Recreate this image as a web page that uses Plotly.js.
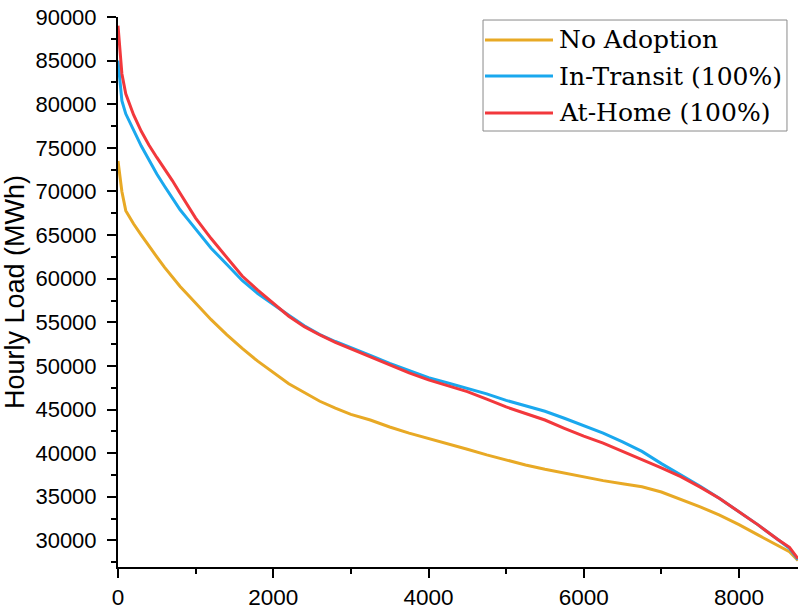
<!DOCTYPE html>
<html>
<head>
<meta charset="utf-8">
<script src="https://cdn.plot.ly/plotly-3.0.1.min.js"></script>
<style>html,body{margin:0;padding:0;background:#fff;}#chart{width:798px;height:613px;}</style>
</head>
<body>
<div id="chart"></div>
<script>
// Hour rank (sorted load duration)
const hours = [0, 20, 50, 100, 200, 300, 400, 500, 600, 700, 800, 900, 1000, 1200, 1400, 1600, 1800, 2000, 2200, 2400, 2600, 2800, 3000, 3250, 3500, 3750, 4000, 4250, 4500, 4750, 5000, 5250, 5500, 5750, 6000, 6250, 6500, 6750, 7000, 7250, 7500, 7750, 8000, 8250, 8500, 8650, 8760];

const seriesNames = ["No Adoption", "In-Transit (100%)", "At-Home (100%)"];

const noAdoption = [73500, 72000, 70000, 67800, 66300, 65000, 63700, 62500, 61300, 60200, 59100, 58150, 57200, 55300, 53600, 52000, 50550, 49200, 47950, 46950, 45950, 45150, 44450, 43800, 43000, 42300, 41700, 41100, 40450, 39800, 39200, 38650, 38150, 37700, 37250, 36850, 36500, 36150, 35550, 34700, 33850, 32900, 31800, 30600, 29400, 28700, 27700];

const inTransit = [85000, 83300, 80400, 78900, 77000, 75200, 73600, 72000, 70600, 69200, 67900, 66800, 65700, 63500, 61650, 59800, 58300, 57000, 55800, 54600, 53600, 52800, 52050, 51200, 50300, 49500, 48650, 48050, 47450, 46800, 46050, 45450, 44800, 44000, 43150, 42300, 41300, 40200, 38800, 37500, 36200, 34800, 33300, 31750, 30100, 29100, 27800];

const atHome = [89000, 86500, 83500, 81200, 78800, 76900, 75300, 73900, 72600, 71250, 69800, 68300, 66950, 64600, 62400, 60300, 58700, 57200, 55700, 54500, 53550, 52700, 51950, 51000, 50050, 49200, 48400, 47750, 47050, 46200, 45300, 44550, 43800, 42850, 41950, 41150, 40200, 39300, 38300, 37300, 36100, 34800, 33300, 31750, 30100, 29200, 27900];

const xTicks = [0, 2000, 4000, 6000, 8000];
const yTicks = [30000, 35000, 40000, 45000, 50000, 55000, 60000, 65000, 70000, 75000, 80000, 85000, 90000];

const colors = ["#E8A925", "#1AA8EE", "#F2383C"];
const seriesValues = [noAdoption, inTransit, atHome];

const traces = seriesValues.map((vals, i) => ({
  x: hours, y: vals, type: "scatter", mode: "lines", name: seriesNames[i],
  line: {color: colors[i], width: 3}, showlegend: false
}));

// custom legend (longer sample lines like the reference)
const legX0 = 0.5368, legX1 = 0.9838, legY0 = 0.7927, legY1 = 0.9945;
const rowY = [0.9582, 0.8927, 0.8255];
const shapes = [{type: "rect", xref: "paper", yref: "paper", x0: legX0, x1: legX1, y0: legY0, y1: legY1,
  line: {color: "#8a8a8a", width: 1}, fillcolor: "rgba(255,255,255,1)", layer: "above"}];
const annotations = [];
seriesNames.forEach((n, i) => {
  shapes.push({type: "line", xref: "paper", yref: "paper", x0: 0.5397, x1: 0.6397, y0: rowY[i], y1: rowY[i],
    line: {color: colors[i], width: 3}, layer: "above"});
  annotations.push({xref: "paper", yref: "paper", x: 0.645, y: rowY[i], xanchor: "left", yanchor: "middle",
    text: n, showarrow: false, font: {family: "DejaVu Serif, serif", size: 25, color: "#000"}});
});

const layout = {
  width: 798, height: 613,
  margin: {l: 118, r: 0, t: 17, b: 46},
  paper_bgcolor: "#fff", plot_bgcolor: "#fff",
  font: {family: "Liberation Sans, Arial, sans-serif", color: "#000"},
  xaxis: {
    range: [0, 8760], tickvals: xTicks, ticktext: xTicks.map(String),
    showgrid: false, zeroline: false, showline: true, linecolor: "#000", linewidth: 2,
    ticks: "outside", ticklen: 9, tickwidth: 2, tickcolor: "#000",
    tickfont: {size: 22.5}, ticklabelstandoff: 0,
    minor: {dtick: 1000, tick0: 0, ticks: "outside", ticklen: 5, tickwidth: 2, tickcolor: "#000", showgrid: false}
  },
  yaxis: {
    range: [26950, 90000], tickvals: yTicks, ticktext: yTicks.map(String),
    showgrid: false, zeroline: false, showline: true, linecolor: "#000", linewidth: 2,
    ticks: "outside", ticklen: 9, tickwidth: 2, tickcolor: "#000",
    tickfont: {size: 22}, ticklabelstandoff: 6,
    minor: {dtick: 2500, tick0: 0, ticks: "outside", ticklen: 5, tickwidth: 2, tickcolor: "#000", showgrid: false},
    title: {text: "Hourly Load (MWh)", font: {size: 27}, standoff: 5}
  },
  shapes: shapes, annotations: annotations
};

Plotly.newPlot("chart", traces, layout, {displayModeBar: false, staticPlot: true});
</script>
</body>
</html>
